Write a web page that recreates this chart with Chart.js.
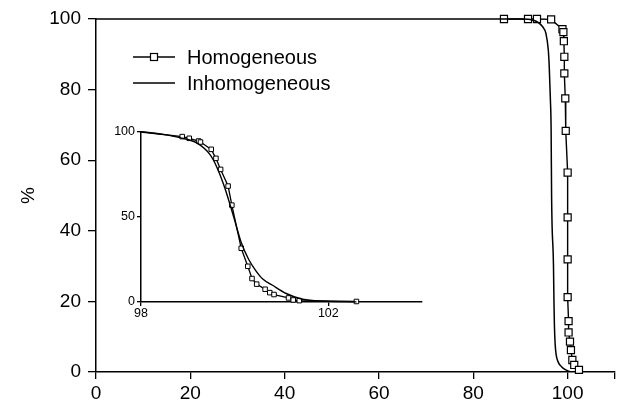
<!DOCTYPE html>
<html>
<head>
<meta charset="utf-8">
<script src="https://cdn.jsdelivr.net/npm/chart.js@4/dist/chart.umd.min.js"></script>
<style>
    body { margin: 0; background: #fff; }
    #wrap { position: relative; width: 621px; height: 406px; }
    #main { position: absolute; left: 0; top: 0; }
    #inset { position: absolute; left: 100px; top: 115px; }
</style>
</head>
<body>
<div id="wrap">
    <canvas id="main" width="621" height="406"></canvas>
    <canvas id="inset" width="330" height="210"></canvas>
</div>
<script>
const seriesNames = ['Homogeneous', 'Inhomogeneous'];

// main plot
const homX = [86.5, 91.6, 93.5, 96.5, 98.9, 99.1, 99.2, 99.3, 99.3, 99.5, 99.6, 100, 100, 100, 100, 100.2, 100.2, 100.5, 100.7, 101.0, 101.4, 102.4];
const homY = [100, 100, 100, 99.9, 97.1, 96.3, 93.7, 89.3, 84.6, 77.5, 68.3, 56.5, 43.8, 31.9, 21.2, 14.4, 11.2, 8.6, 6.2, 3.4, 2.0, 0.6];
const inhX = [0, 90, 92.9, 94.7, 95.4, 95.9, 96.1, 96.35, 96.5, 96.6, 97.0, 97.1, 97.2, 97.35, 97.55, 98.0, 98.7, 99.6, 100.5];
const inhY = [100, 100, 99.6, 97.8, 95.9, 91.2, 86.5, 77, 68.5, 49.7, 30, 20, 13, 8, 5, 2.8, 1.5, 0.6, 0.1];
const xTicks = [0, 20, 40, 60, 80, 100, 110];
const xLabels = ['0', '20', '40', '60', '80', '100', ''];
const yTicks = [0, 20, 40, 60, 80, 100];

// inset
const insHomX = [98.0, 98.88, 99.03, 99.23, 99.27, 99.5, 99.6, 99.7, 99.86, 99.94, 100.14, 100.28, 100.37, 100.47, 100.65, 100.75, 100.84, 101.15, 101.25, 101.38, 102.6];
const insHomY = [100, 97.3, 96.3, 94.7, 94.1, 89.8, 84.5, 78, 68.2, 57, 31.6, 21, 13.8, 10.5, 7.5, 5.5, 4.4, 2.4, 1.2, 0.8, 0.3];
const insInhX = [98.0, 98.47, 98.83, 99.18, 99.47, 99.61, 99.79, 99.98, 100.14, 100.3, 100.45, 100.6, 100.8, 101.1, 101.45, 101.95, 102.6];
const insInhY = [100.2, 98.6, 96.7, 93.7, 86.8, 79.9, 67.1, 50, 35, 25, 18.5, 13.5, 10, 5, 1.6, 0.5, 0.1];
const insXTicks = [98, 102];
const insYTicks = [0, 50, 100];

const FONT = '"Liberation Sans", Arial, Helvetica, sans-serif';

function pts(xs, ys) {
    return xs.map((x, i) => ({ x: x, y: ys[i] }));
}

function axis(min, max, ticks, labels, fontSize, tickLen, pad, extra) {
    return Object.assign({
        type: 'linear',
        min: min,
        max: max,
        afterBuildTicks: s => { s.ticks = ticks.map(v => ({ value: v })); },
        grid: { drawOnChartArea: false, drawTicks: true, tickLength: tickLen, color: '#000', lineWidth: 1.3 },
        border: { display: true, color: '#000', width: 1.5 },
        ticks: {
            color: '#000', font: { family: FONT, size: fontSize }, maxRotation: 0, autoSkip: false, padding: pad,
            callback: (v, i) => (labels ? labels[i] : v)
        }
    }, extra);
}

const legendPlugin = {
    id: 'legendBox',
    afterDraw(chart) {
        const ctx = chart.ctx;
        ctx.save();
        ctx.strokeStyle = '#000';
        ctx.lineWidth = 1.5;
        ctx.font = '20px ' + FONT;
        ctx.textBaseline = 'middle';
        seriesNames.forEach((name, i) => {
            const y = 57 + i * 26;
            ctx.beginPath();
            ctx.moveTo(133, y);
            ctx.lineTo(175, y);
            ctx.stroke();
            if (i === 0) {
                ctx.fillStyle = '#fff';
                ctx.fillRect(150.5, y - 3.5, 7, 7);
                ctx.lineWidth = 1.2;
                ctx.strokeRect(150.5, y - 3.5, 7, 7);
                ctx.lineWidth = 1.5;
            }
            ctx.fillStyle = '#000';
            ctx.fillText(name, 187, y + 1);
        });
        ctx.restore();
    }
};

new Chart(document.getElementById('main').getContext('2d'), {
    type: 'scatter',
    data: {
        datasets: [{
            label: seriesNames[1],
            data: pts(inhX, inhY),
            showLine: true,
            borderColor: '#000',
            borderWidth: 1.5,
            pointRadius: 0,
            cubicInterpolationMode: 'monotone',
            clip: false
        }, {
            label: seriesNames[0],
            data: pts(homX, homY),
            showLine: true,
            borderColor: '#000',
            borderWidth: 1.4,
            pointStyle: 'rect',
            pointRadius: 5,
            pointBorderWidth: 1.2,
            pointBorderColor: '#000',
            pointBackgroundColor: '#fff',
            clip: false
        }]
    },
    options: {
        responsive: false,
        animation: false,
        layout: { padding: { top: 19, right: 4, left: 0, bottom: 0 } },
        plugins: { legend: { display: false }, tooltip: { enabled: false } },
        scales: {
            x: axis(0, 110, xTicks, xLabels, 19, 7, 3, {
                afterFit: s => { s.height = 34; }
            }),
            y: axis(0, 100, yTicks, null, 19, 8, 7, {
                afterFit: s => { s.width = 96; },
                title: { display: true, text: '%', color: '#000', font: { family: FONT, size: 19 }, padding: { top: 17, bottom: 0 } }
            })
        }
    },
    plugins: [legendPlugin]
});

new Chart(document.getElementById('inset').getContext('2d'), {
    type: 'scatter',
    data: {
        datasets: [{
            label: seriesNames[1],
            data: pts(insInhX, insInhY),
            showLine: true,
            borderColor: '#000',
            borderWidth: 1.4,
            pointRadius: 0,
            cubicInterpolationMode: 'monotone',
            clip: false
        }, {
            label: seriesNames[0],
            data: pts(insHomX, insHomY),
            showLine: true,
            borderColor: '#000',
            borderWidth: 1.3,
            pointStyle: 'rect',
            pointRadius: c => c.dataIndex === 0 ? 0 : 3.2,
            pointBorderWidth: 1,
            pointBorderColor: '#000',
            pointBackgroundColor: '#fff',
            clip: false
        }]
    },
    options: {
        responsive: false,
        animation: false,
        layout: { padding: { top: 17, right: 8, left: 0, bottom: 0 } },
        plugins: { legend: { display: false }, tooltip: { enabled: false } },
        scales: {
            x: axis(98, 104, insXTicks, null, 12.5, 4, 0, {
                afterFit: s => { s.height = 23; }
            }),
            y: axis(0, 100, insYTicks, null, 12.5, 4, 2, {
                afterFit: s => { s.width = 41; }
            })
        }
    }
});
</script>
</body>
</html>
